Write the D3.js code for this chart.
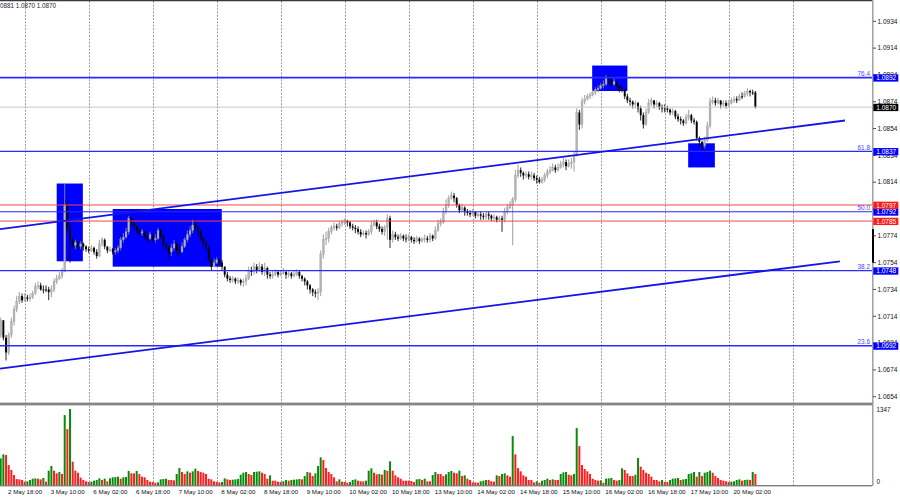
<!DOCTYPE html>
<html><head><meta charset="utf-8">
<script src="https://cdn.jsdelivr.net/npm/d3@7"></script>
<style>body{margin:0;background:#fff;} svg{display:block;} text{font-family:"Liberation Sans",Arial,sans-serif;}</style>
</head><body><svg id="c" width="900" height="500"></svg>
<script>
// ---- data (H1 bars, 2 May 16:00 .. 20 May 11:00) ----
const firstOpen = 1.0700;
const closes = [
1.0711,1.0698,1.0687,1.0700,1.0710,1.0719,1.0725,1.0729,1.0726,1.0728,
1.0727,1.0728,1.0731,1.0736,1.0737,1.0734,1.0734,1.0734,1.0732,1.0734,
1.0740,1.0742,1.0744,1.0747,1.0797,1.0780,1.0771,1.0767,1.0769,1.0766,
1.0768,1.0766,1.0764,1.0763,1.0765,1.0762,1.0759,1.0768,1.0771,1.0766,
1.0763,1.0764,1.0762,1.0763,1.0765,1.0771,1.0773,1.0777,1.0787,1.0784,
1.0781,1.0778,1.0776,1.0777,1.0773,1.0772,1.0775,1.0771,1.0772,1.0778,
1.0774,1.0768,1.0765,1.0762,1.0765,1.0768,1.0763,1.0762,1.0766,1.0771,
1.0775,1.0778,1.0782,1.0780,1.0777,1.0772,1.0769,1.0765,1.0756,1.0751,
1.0754,1.0756,1.0754,1.0751,1.0745,1.0742,1.0741,1.0742,1.0740,1.0741,
1.0739,1.0740,1.0742,1.0748,1.0747,1.0751,1.0748,1.0751,1.0747,1.0750,
1.0745,1.0744,1.0745,1.0747,1.0745,1.0746,1.0747,1.0745,1.0746,1.0744,
1.0745,1.0747,1.0744,1.0742,1.0740,1.0737,1.0734,1.0732,1.0731,1.0732,
1.0760,1.0771,1.0772,1.0777,1.0780,1.0781,1.0780,1.0783,1.0784,1.0785,
1.0784,1.0781,1.0780,1.0779,1.0777,1.0775,1.0776,1.0775,1.0777,1.0782,
1.0784,1.0781,1.0779,1.0777,1.0780,1.0787,1.0771,1.0775,1.0773,1.0772,
1.0774,1.0772,1.0772,1.0773,1.0771,1.0770,1.0772,1.0770,1.0771,1.0772,
1.0771,1.0774,1.0772,1.0778,1.0783,1.0784,1.0792,1.0797,1.0802,1.0804,
1.0802,1.0797,1.0793,1.0795,1.0792,1.0791,1.0790,1.0792,1.0789,1.0790,
1.0789,1.0788,1.0790,1.0789,1.0787,1.0788,1.0786,1.0787,1.0786,1.0792,
1.0795,1.0797,1.0801,1.0819,1.0823,1.0821,1.0819,1.0820,1.0818,1.0819,
1.0817,1.0816,1.0814,1.0816,1.0819,1.0822,1.0823,1.0825,1.0823,1.0825,
1.0827,1.0829,1.0826,1.0828,1.0829,1.0834,1.0866,1.0857,1.0874,1.0876,
1.0878,1.0879,1.0881,1.0883,1.0884,1.0886,1.0887,1.0892,1.0890,1.0887,
1.0889,1.0886,1.0884,1.0883,1.0878,1.0875,1.0874,1.0872,1.0873,1.0869,
1.0864,1.0857,1.0866,1.0873,1.0875,1.0872,1.0873,1.0870,1.0869,1.0869,
1.0868,1.0866,1.0867,1.0863,1.0861,1.0860,1.0858,1.0862,1.0864,1.0860,
1.0859,1.0847,1.0844,1.0841,1.0845,1.0856,1.0874,1.0875,1.0873,1.0875,
1.0872,1.0873,1.0871,1.0873,1.0875,1.0876,1.0875,1.0878,1.0878,1.0880,
1.0882,1.0881,1.0881,1.0870];
const highs = [
1.0713,1.0711,1.0700,1.0702,1.0713,1.0722,1.0729,1.0732,1.0731,1.0731,
1.0730,1.0731,1.0733,1.0739,1.0740,1.0739,1.0737,1.0737,1.0736,1.0737,
1.0742,1.0745,1.0747,1.0750,1.0813,1.0801,1.0784,1.0772,1.0771,1.0770,
1.0770,1.0769,1.0767,1.0766,1.0767,1.0766,1.0764,1.0771,1.0773,1.0772,
1.0766,1.0766,1.0765,1.0765,1.0767,1.0773,1.0776,1.0780,1.0789,1.0788,
1.0786,1.0782,1.0780,1.0779,1.0778,1.0775,1.0777,1.0775,1.0775,1.0780,
1.0779,1.0775,1.0769,1.0767,1.0768,1.0771,1.0769,1.0766,1.0769,1.0773,
1.0778,1.0781,1.0786,1.0786,1.0782,1.0778,1.0774,1.0770,1.0766,1.0757,
1.0757,1.0758,1.0757,1.0756,1.0751,1.0747,1.0744,1.0744,1.0743,1.0743,
1.0742,1.0742,1.0745,1.0751,1.0751,1.0754,1.0753,1.0754,1.0753,1.0754,
1.0751,1.0747,1.0748,1.0749,1.0748,1.0748,1.0750,1.0748,1.0748,1.0747,
1.0748,1.0749,1.0748,1.0745,1.0743,1.0741,1.0738,1.0735,1.0734,1.0735,
1.0763,1.0775,1.0777,1.0780,1.0782,1.0784,1.0783,1.0785,1.0786,1.0787,
1.0786,1.0785,1.0783,1.0782,1.0781,1.0779,1.0778,1.0778,1.0779,1.0785,
1.0786,1.0786,1.0783,1.0781,1.0782,1.0790,1.0789,1.0778,1.0777,1.0775,
1.0776,1.0775,1.0775,1.0775,1.0774,1.0773,1.0774,1.0773,1.0773,1.0775,
1.0774,1.0776,1.0775,1.0781,1.0786,1.0787,1.0795,1.0801,1.0804,1.0807,
1.0806,1.0803,1.0798,1.0798,1.0796,1.0794,1.0793,1.0794,1.0792,1.0792,
1.0792,1.0791,1.0792,1.0792,1.0790,1.0790,1.0789,1.0789,1.0789,1.0795,
1.0798,1.0800,1.0803,1.0823,1.0827,1.0825,1.0822,1.0822,1.0822,1.0822,
1.0821,1.0819,1.0818,1.0818,1.0821,1.0824,1.0826,1.0828,1.0827,1.0828,
1.0830,1.0832,1.0831,1.0831,1.0832,1.0837,1.0869,1.0868,1.0877,1.0879,
1.0880,1.0881,1.0883,1.0885,1.0886,1.0888,1.0890,1.0894,1.0893,1.0892,
1.0891,1.0889,1.0887,1.0886,1.0883,1.0880,1.0877,1.0875,1.0875,1.0874,
1.0871,1.0866,1.0869,1.0876,1.0877,1.0875,1.0875,1.0874,1.0872,1.0872,
1.0871,1.0869,1.0869,1.0868,1.0865,1.0863,1.0861,1.0865,1.0868,1.0865,
1.0862,1.0860,1.0848,1.0845,1.0848,1.0859,1.0877,1.0878,1.0877,1.0877,
1.0875,1.0875,1.0875,1.0875,1.0877,1.0878,1.0878,1.0880,1.0881,1.0882,
1.0884,1.0883,1.0883,1.0882];
const lows = [
1.0698,1.0696,1.0681,1.0685,1.0698,1.0707,1.0717,1.0723,1.0724,1.0725,
1.0725,1.0725,1.0727,1.0730,1.0734,1.0733,1.0731,1.0732,1.0726,1.0728,
1.0732,1.0738,1.0741,1.0742,1.0747,1.0777,1.0754,1.0765,1.0764,1.0763,
1.0764,1.0763,1.0762,1.0761,1.0762,1.0760,1.0757,1.0758,1.0766,1.0764,
1.0761,1.0762,1.0760,1.0760,1.0761,1.0763,1.0769,1.0772,1.0775,1.0781,
1.0778,1.0776,1.0774,1.0774,1.0771,1.0769,1.0771,1.0769,1.0769,1.0771,
1.0772,1.0766,1.0763,1.0757,1.0759,1.0763,1.0760,1.0759,1.0761,1.0765,
1.0769,1.0773,1.0776,1.0778,1.0774,1.0770,1.0766,1.0763,1.0754,1.0748,
1.0751,1.0753,1.0751,1.0748,1.0743,1.0740,1.0739,1.0739,1.0738,1.0738,
1.0737,1.0736,1.0737,1.0741,1.0744,1.0745,1.0746,1.0747,1.0745,1.0744,
1.0742,1.0742,1.0742,1.0744,1.0743,1.0744,1.0745,1.0742,1.0743,1.0742,
1.0743,1.0744,1.0742,1.0740,1.0737,1.0734,1.0731,1.0729,1.0728,1.0726,
1.0729,1.0757,1.0767,1.0769,1.0775,1.0778,1.0778,1.0779,1.0781,1.0782,
1.0781,1.0779,1.0778,1.0776,1.0775,1.0773,1.0774,1.0772,1.0774,1.0775,
1.0781,1.0779,1.0777,1.0775,1.0774,1.0771,1.0765,1.0769,1.0771,1.0770,
1.0771,1.0770,1.0769,1.0770,1.0769,1.0768,1.0769,1.0768,1.0769,1.0769,
1.0769,1.0769,1.0770,1.0771,1.0777,1.0781,1.0783,1.0790,1.0795,1.0801,
1.0799,1.0795,1.0791,1.0792,1.0789,1.0789,1.0788,1.0789,1.0787,1.0788,
1.0786,1.0786,1.0786,1.0786,1.0785,1.0785,1.0784,1.0785,1.0777,1.0784,
1.0790,1.0794,1.0767,1.0799,1.0817,1.0818,1.0816,1.0817,1.0816,1.0816,
1.0815,1.0813,1.0813,1.0813,1.0814,1.0817,1.0820,1.0822,1.0821,1.0822,
1.0824,1.0825,1.0823,1.0825,1.0824,1.0822,1.0833,1.0853,1.0854,1.0872,
1.0875,1.0876,1.0878,1.0879,1.0881,1.0883,1.0884,1.0886,1.0887,1.0885,
1.0886,1.0883,1.0881,1.0881,1.0876,1.0873,1.0871,1.0869,1.0869,1.0866,
1.0860,1.0854,1.0856,1.0865,1.0871,1.0869,1.0870,1.0868,1.0866,1.0866,
1.0866,1.0864,1.0864,1.0861,1.0859,1.0857,1.0856,1.0857,1.0860,1.0858,
1.0857,1.0845,1.0841,1.0837,1.0839,1.0844,1.0854,1.0872,1.0871,1.0872,
1.0869,1.0870,1.0869,1.0870,1.0872,1.0873,1.0873,1.0875,1.0876,1.0877,
1.0878,1.0878,1.0879,1.0869];
const volumes = [
472,543,531,354,266,177,106,100,89,59,
65,89,112,118,112,100,124,59,254,336,
254,207,230,195,1239,991,1347,413,254,218,
130,89,65,53,59,77,89,118,89,112,
65,118,136,142,148,112,136,142,248,207,
207,248,195,148,136,89,59,53,41,47,
100,106,112,89,89,83,195,301,230,195,
242,218,242,289,248,230,218,195,112,100,
65,53,47,53,118,100,89,94,100,106,
183,218,230,195,177,230,236,242,218,195,
112,171,77,77,59,53,65,89,77,89,
94,100,106,100,159,230,218,159,207,336,
490,443,301,230,195,136,65,100,59,53,
41,53,89,100,77,65,65,77,254,295,
218,189,195,183,266,254,419,254,171,136,
112,77,77,77,71,53,100,106,89,112,
65,65,177,230,195,195,159,189,230,248,
218,207,254,159,171,112,89,47,47,41,
65,77,89,89,65,59,171,159,195,207,
171,148,867,543,301,242,171,148,89,89,
47,65,41,77,89,112,89,100,89,89,
195,224,230,183,171,195,1009,690,354,283,
242,195,112,89,77,83,41,112,118,124,
89,77,89,295,266,207,159,159,183,478,
325,266,218,195,148,89,89,65,89,53,
53,89,112,118,124,89,100,106,195,207,
230,148,230,159,218,230,254,218,159,124,
89,77,65,53,59,65,89,100,77,89,
94,89,230,195];
const volMax = 1347;
const timeLabels = ["2 May 18:00","3 May 10:00","6 May 02:00","6 May 18:00","7 May 10:00","8 May 02:00","8 May 18:00","9 May 10:00","10 May 02:00","10 May 18:00","13 May 10:00","14 May 02:00","14 May 18:00","15 May 10:00","16 May 02:00","16 May 18:00","17 May 10:00","20 May 02:00"];
const timeLabelBars = [2,18,34,50,66,82,98,114,130,146,162,178,194,210,226,242,258,274];
const gridBars = [9,33,57,81,105,129,153,177,201,225,249,273,297];
const priceTicks = [1.0654,1.0674,1.0694,1.0714,1.0734,1.0754,1.0774,1.0794,1.0814,1.0834,1.0854,1.0874,1.0894,1.0914,1.0934];
const fibLevels = [1.0892,1.0837,1.0792,1.0748,1.0692];
const fibNames = ["76.4","61.8","50.0","38.2","23.6"];
const redLevels = [1.0797,1.0785];
const lastPrice = 1.0870;
const header = "0881 1.0870 1.0870";
// trend lines: [bar1, price1, bar2, price2]
const trendLines = [[-0.26,1.0779,316.6,1.0860],[-0.26,1.0675,314.7,1.0755]];
// rectangles: [bar1, bar2, priceTop, priceBottom]
const boxes = [[21.0,30.8,1.0813,1.0755],[42.0,82.9,1.0794,1.0751],[221.8,235.0,1.0901,1.0882],[257.8,267.8,1.0843,1.0825]];

// ---- scales ----
const W = 872;
const x = d3.scaleLinear().domain([0,300]).range([0.7, 0.7+300*2.6667]);
const y = d3.scaleLinear().domain([1.0654,1.0934]).range([396.7,21.3]);
const yv = d3.scaleLinear().domain([0,volMax]).range([485,409]);

const svg = d3.select("#c");
const defs = svg.append("defs");
defs.append("clipPath").attr("id","cm").append("rect").attr("x",0).attr("y",1).attr("width",W).attr("height",401.5);
defs.append("clipPath").attr("id","cv").append("rect").attr("x",0).attr("y",406).attr("width",W).attr("height",79.5);

// grid
svg.append("g").selectAll("line").data(gridBars).join("line")
  .attr("x1",d=>Math.round(x(d))+0.5).attr("x2",d=>Math.round(x(d))+0.5)
  .attr("y1",1).attr("y2",485).attr("stroke","#9c9c9c").attr("stroke-width",1)
  .attr("stroke-dasharray","2,1.4");

const gm = svg.append("g").attr("clip-path","url(#cm)");
// rectangles (background objects)
gm.append("g").selectAll("rect").data(boxes).join("rect")
  .attr("x",d=>x(d[0])).attr("width",d=>x(d[1])-x(d[0]))
  .attr("y",d=>y(d[2])).attr("height",d=>y(d[3])-y(d[2]))
  .attr("fill","#0000ff");

// candles
const bars = closes.map((c,i)=>{
  const o = i===0 ? firstOpen : closes[i-1];
  return {i,o,c,h:Math.max(highs[i],o,c),l:Math.min(lows[i],o,c)};
});
const gc = gm.append("g");
gc.selectAll("line").data(bars).join("line")
  .attr("x1",d=>x(d.i)).attr("x2",d=>x(d.i))
  .attr("y1",d=>y(d.h)).attr("y2",d=>y(d.l))
  .attr("stroke",d=>d.c>d.o?"#8e8e8e":"#000").attr("stroke-width",0.85);
gc.selectAll("rect").data(bars).join("rect")
  .attr("x",d=>x(d.i)-0.95).attr("width",1.9)
  .attr("y",d=>y(Math.max(d.o,d.c)))
  .attr("height",d=>Math.max(0.9,Math.abs(y(d.o)-y(d.c))))
  .attr("fill",d=>d.c>d.o?"#b4b4b4":"#000")
  .attr("stroke",d=>d.c>d.o?"#999":"none").attr("stroke-width",0.3);

// horizontal levels
gm.append("line").attr("x1",0).attr("x2",W).attr("y1",y(lastPrice)).attr("y2",y(lastPrice))
  .attr("stroke","#c6c6c6").attr("stroke-width",1);
gm.append("g").selectAll("line").data(fibLevels).join("line")
  .attr("x1",0).attr("x2",W).attr("y1",d=>y(d)).attr("y2",d=>y(d))
  .attr("stroke","#2a2aff").attr("stroke-width",(d,i)=>(i===0||i===4)?1.6:1.1);
gm.append("g").selectAll("line").data(redLevels).join("line")
  .attr("x1",0).attr("x2",W).attr("y1",d=>y(d)).attr("y2",d=>y(d))
  .attr("stroke","#f04848").attr("stroke-width",1);
gm.append("g").selectAll("line").data(trendLines).join("line")
  .attr("x1",d=>x(d[0])).attr("y1",d=>y(d[1])).attr("x2",d=>x(d[2])).attr("y2",d=>y(d[3]))
  .attr("stroke","#1414e6").attr("stroke-width",1.8);
gm.append("g").selectAll("text").data(fibLevels).join("text")
  .attr("x",W-2).attr("y",d=>y(d)-1.6).attr("text-anchor","end")
  .attr("font-size",6.4).attr("fill","#4545ff").text((d,i)=>fibNames[i]);

// volume panel
const gv = svg.append("g").attr("clip-path","url(#cv)");
gv.selectAll("rect").data(volumes).join("rect")
  .attr("x",(d,i)=>x(i)-1).attr("width",2)
  .attr("y",d=>yv(d)).attr("height",d=>485-yv(d))
  .attr("fill",(d,i)=>(i===0||d>volumes[i-1])?"#0a8a0a":"#ff1e1e");

// frame
svg.append("line").attr("x1",0).attr("x2",W).attr("y1",0.6).attr("y2",0.6).attr("stroke","#3a3a3a").attr("stroke-width",1.2);
svg.append("rect").attr("x",0).attr("y",402.6).attr("width",W+1).attr("height",2.8).attr("fill","#858585");
svg.append("line").attr("x1",0).attr("x2",W).attr("y1",485.8).attr("y2",485.8).attr("stroke","#4a4a4a").attr("stroke-width",1);
svg.append("line").attr("x1",W+0.8).attr("x2",W+0.8).attr("y1",0).attr("y2",486).attr("stroke","#9a9a9a").attr("stroke-width",1.4);
svg.append("rect").attr("x",W).attr("width",2).attr("y",y(1.0779)).attr("height",y(1.0754)-y(1.0779)).attr("fill","#000");

// header
svg.append("text").attr("x",0).attr("y",8.3).attr("font-size",6.3).attr("fill","#1c1c38").text(header);

// price axis
const ga = svg.append("g");
ga.selectAll("line").data(priceTicks).join("line")
  .attr("x1",W+1).attr("x2",W+4).attr("y1",d=>y(d)).attr("y2",d=>y(d)).attr("stroke","#222").attr("stroke-width",0.8);
ga.selectAll("text").data(priceTicks).join("text")
  .attr("x",W+5.5).attr("y",d=>y(d)).attr("dy","0.35em").attr("font-size",6.5).attr("fill","#111")
  .text(d=>d.toFixed(4));

// price boxes
const boxData = fibLevels.map(p=>({p,c:"#0000ff"}))
  .concat(redLevels.map(p=>({p,c:"#ff1a1a"})))
  .concat([{p:lastPrice,c:"#000"}]);
const gb = svg.append("g").selectAll("g").data(boxData).join("g");
gb.append("rect").attr("x",W+1.3).attr("width",25).attr("y",d=>y(d.p)-3.3).attr("height",7.3).attr("fill",d=>d.c);
gb.append("text").attr("x",W+4.3).attr("y",d=>y(d.p)+0.4).attr("dy","0.35em").attr("font-size",6.5).attr("fill","#fff").text(d=>d.p.toFixed(4));

// volume axis
svg.append("text").attr("x",W+4.5).attr("y",410).attr("dy","0.35em").attr("font-size",6.3).attr("fill","#111").text(String(volMax));
svg.append("text").attr("x",W+4.5).attr("y",481.5).attr("dy","0.35em").attr("font-size",6.3).attr("fill","#111").text("0");

// time axis
svg.append("g").selectAll("text").data(timeLabelBars).join("text")
  .attr("x",d=>x(d)+2).attr("y",494).attr("font-size",6.2).attr("fill","#111")
  .text((d,i)=>timeLabels[i]);
</script>
</body></html>
